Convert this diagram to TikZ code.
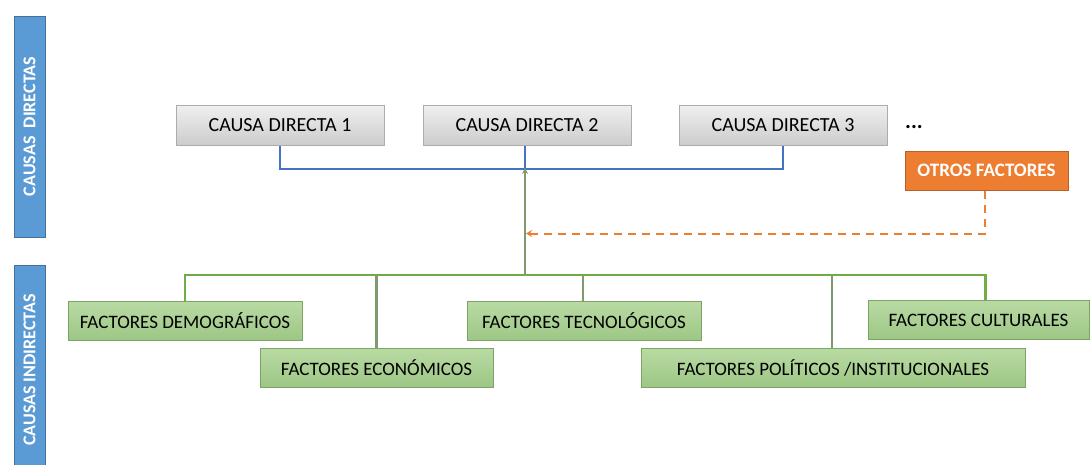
\documentclass[tikz,border=0pt]{standalone}
\usepackage{fontspec}
\setmainfont{Carlito}
\usetikzlibrary{arrows.meta}
\definecolor{barblue}{HTML}{5B9BD5}
\definecolor{barborder}{HTML}{41719C}
\definecolor{linkblue}{HTML}{4472C4}
\definecolor{orangef}{HTML}{ED7D31}
\definecolor{orangeb}{HTML}{B6602A}
\definecolor{greentop}{HTML}{B9DAA4}
\definecolor{greenbot}{HTML}{9DC785}
\definecolor{greenb}{HTML}{7EA463}
\definecolor{greenline}{HTML}{70AD47}
\definecolor{greenvert}{HTML}{7F9A6C}
\tikzset{
  causebox/.style={draw=gray!65, line width=1pt, top color=gray!12, bottom color=gray!40,
    minimum width=208pt, minimum height=40pt, inner sep=0pt,
    font=\fontsize{20}{22}\selectfont, text=black},
  factorbox/.style={draw=greenb, line width=1pt, top color=greentop, bottom color=greenbot,
    minimum height=39pt, inner sep=0pt, font=\fontsize{19}{22}\selectfont, text=black},
  otherbox/.style={draw=orangeb, line width=1pt, fill=orangef,
    minimum width=163pt, minimum height=39pt, inner sep=0pt,
    font=\fontsize{19}{22}\selectfont\bfseries, text=white},
  sidebar/.style={draw=barborder, line width=1pt, fill=barblue, rotate=90,
    minimum height=31pt, inner sep=0pt, font=\fontsize{18}{20}\selectfont\bfseries, text=white},
  buslink/.style={draw=linkblue, line width=2.4pt},
  treelink/.style={draw=greenline, line width=2.4pt},
  droplink/.style={draw=greenvert, line width=2.4pt},
  otherlink/.style={draw=orangef, line width=2pt, dash pattern=on 8pt off 6pt}
}
\begin{document}
\begin{tikzpicture}[x=1pt,y=-1pt]
\useasboundingbox (0,0) rectangle (1091,464);
% side bars
\node[sidebar, minimum width=221pt] (b1) at (29.5,126.5) {CAUSAS\ \ DIRECTAS};
\node[sidebar, minimum width=210pt] (b2) at (29.5,370) {CAUSAS INDIRECTAS};
% direct causes
\node[causebox] (cd1) at (280,125) {CAUSA DIRECTA 1};
\node[causebox] (cd2) at (527,125) {CAUSA DIRECTA 2};
\node[causebox] (cd3) at (783,125) {CAUSA DIRECTA 3};
\node[font=\fontsize{22}{22}\selectfont\bfseries, inner sep=0pt] (dots) at (914,127) {...};
\node[otherbox] (otros) at (986.5,170.5) {OTROS FACTORES};
% indirect causes
\node[factorbox, minimum width=234pt] (dem) at (185,320.5) {FACTORES DEMOGRÁFICOS};
\node[factorbox, minimum width=233pt] (eco) at (376.5,367.5) {FACTORES ECONÓMICOS};
\node[factorbox, minimum width=234pt] (tec) at (584,321) {FACTORES TECNOLÓGICOS};
\node[factorbox, minimum width=384pt] (pol) at (833,367.5) {FACTORES POLÍTICOS /INSTITUCIONALES};
\node[factorbox, minimum width=221pt] (cul) at (978.5,320) {FACTORES CULTURALES};
% junctions
\coordinate (busj) at (525,169);
\coordinate (treej) at (525,275);
\coordinate (dashj) at (526,233.5);
% blue bus
\draw[buslink] (cd1.south) |- (busj) -| (cd3.south);
\draw[buslink] (cd2.south -| busj) -- (busj);
% green tree
\draw[treelink] (dem.north) |- (treej) -| ([xshift=7pt]cul.north);
\draw[droplink] (eco.north) -- (eco.north |- treej);
\draw[droplink] ([xshift=-1pt]tec.north) -- ([xshift=-1pt]tec.north |- treej);
\draw[droplink] ([xshift=-1pt]pol.north) -- ([xshift=-1pt]pol.north |- treej);
\draw[droplink, -{Stealth[length=6pt,width=6pt]}] (treej) -- ([yshift=1.2pt]busj);
% orange dashed
\draw[otherlink, -{Stealth[length=6pt,width=7pt]}] ([xshift=-2pt]otros.south) |- (dashj);
\end{tikzpicture}
\end{document}
